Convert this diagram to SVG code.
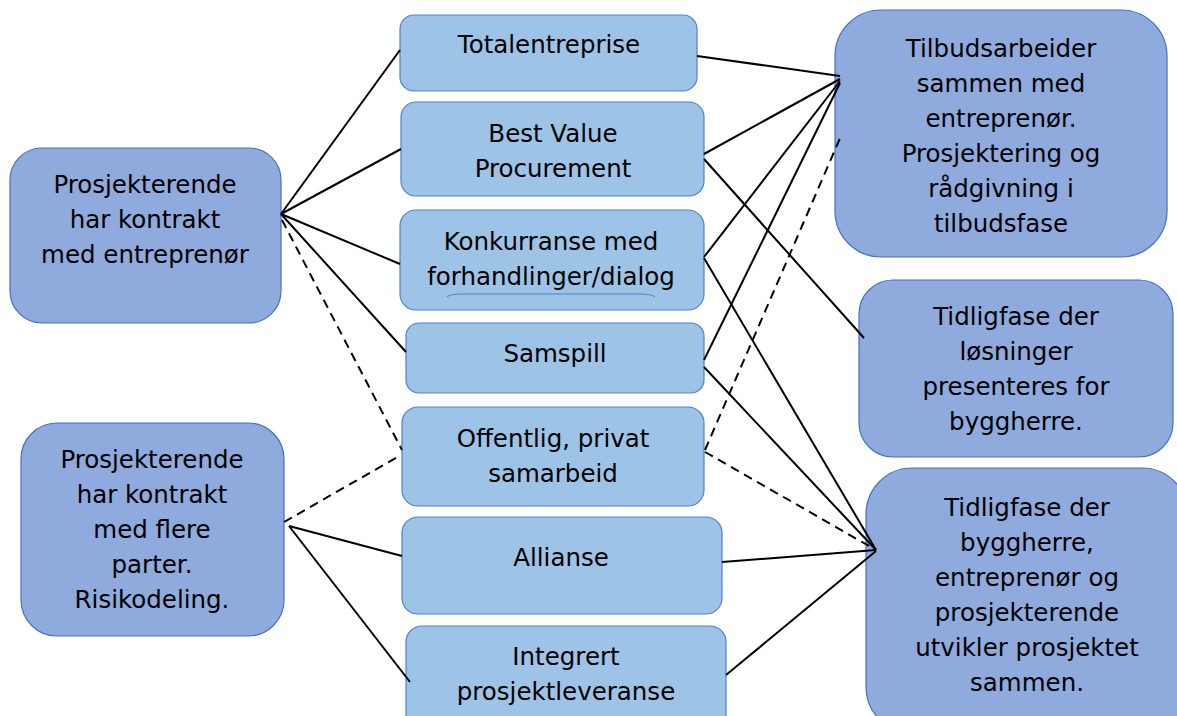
<svg xmlns="http://www.w3.org/2000/svg" width="1177" height="716" viewBox="0 0 1177 716">
  <style>
    .side { fill: #8FAADC; stroke: #4472C4; stroke-width: 1.2; }
    .mid { fill: #9DC3E6; stroke: #4F81D0; stroke-width: 1.2; }
    text { font-family: "DejaVu Sans", Verdana, sans-serif; font-size: 24.5px; fill: #000; text-anchor: middle; }
    .conn { stroke: #000; stroke-width: 2; fill: none; }
    .dash { stroke-dasharray: 9 6; }
  </style>
  <rect width="1177" height="716" fill="#fff"/>

  <!-- left column -->
  <g id="node-entreprenor">
    <rect class="side" x="10" y="148" width="271" height="175" rx="32"/>
    <text x="145" y="193">Prosjekterende</text>
    <text x="145" y="228">har kontrakt</text>
    <text x="145" y="263">med entreprenør</text>
  </g>
  <g id="node-flere-parter">
    <rect class="side" x="21" y="423" width="263" height="213" rx="36"/>
    <text x="152" y="468">Prosjekterende</text>
    <text x="152" y="503">har kontrakt</text>
    <text x="152" y="538">med flere</text>
    <text x="152" y="573">parter.</text>
    <text x="152" y="608">Risikodeling.</text>
  </g>

  <!-- middle column -->
  <g id="node-totalentreprise">
    <rect class="mid" x="400" y="15" width="297" height="76" rx="14"/>
    <text x="549" y="53">Totalentreprise</text>
  </g>
  <g id="node-best-value">
    <rect class="mid" x="401" y="102" width="303" height="94" rx="15"/>
    <text x="553" y="142">Best Value</text>
    <text x="553" y="177">Procurement</text>
  </g>
  <g id="node-konkurranse">
    <rect class="mid" x="400" y="210" width="304" height="100" rx="16"/>
    <text x="551" y="250">Konkurranse med</text>
    <text x="551" y="285">forhandlinger/dialog</text>
    <path d="M447,297 Q450,294 462,294 L640,294 Q652,294 655,297" fill="none" stroke="#4F81D0" stroke-width="1"/>
  </g>
  <g id="node-samspill">
    <rect class="mid" x="406" y="323" width="298" height="70" rx="13"/>
    <text x="555" y="362">Samspill</text>
  </g>
  <g id="node-offentlig-privat">
    <rect class="mid" x="402" y="407" width="302" height="99" rx="16"/>
    <text x="553" y="447">Offentlig, privat</text>
    <text x="553" y="482">samarbeid</text>
  </g>
  <g id="node-allianse">
    <rect class="mid" x="402" y="517" width="320" height="97" rx="16"/>
    <text x="561" y="566">Allianse</text>
  </g>
  <g id="node-integrert">
    <rect class="mid" x="406" y="626" width="320" height="110" rx="16"/>
    <text x="566" y="665">Integrert</text>
    <text x="566" y="700">prosjektleveranse</text>
  </g>

  <!-- right column -->
  <g id="node-tilbudsarbeid">
    <rect class="side" x="835" y="10" width="332" height="247" rx="46"/>
    <text x="1001" y="57">Tilbudsarbeider</text>
    <text x="1001" y="92">sammen med</text>
    <text x="1001" y="127">entreprenør.</text>
    <text x="1001" y="162">Prosjektering og</text>
    <text x="1001" y="197">rådgivning i</text>
    <text x="1001" y="232">tilbudsfase</text>
  </g>
  <g id="node-tidligfase-losninger">
    <rect class="side" x="859" y="280" width="314" height="177" rx="34"/>
    <text x="1016" y="325">Tidligfase der</text>
    <text x="1016" y="360">løsninger</text>
    <text x="1016" y="395">presenteres for</text>
    <text x="1016" y="430">byggherre.</text>
  </g>
  <g id="node-tidligfase-sammen">
    <rect class="side" x="866" y="468" width="322" height="265" rx="46"/>
    <text x="1027" y="516">Tidligfase der</text>
    <text x="1027" y="551">byggherre,</text>
    <text x="1027" y="586">entreprenør og</text>
    <text x="1027" y="621">prosjekterende</text>
    <text x="1027" y="656">utvikler prosjektet</text>
    <text x="1027" y="691">sammen.</text>
  </g>

  <!-- connectors, drawn over the node edges -->
  <g id="connectors">
    <!-- from "har kontrakt med entreprenør" -->
    <line class="conn" x1="281" y1="214" x2="400" y2="50"/>
    <line class="conn" x1="281" y1="214" x2="401" y2="149"/>
    <line class="conn" x1="281" y1="214" x2="400" y2="264"/>
    <line class="conn" x1="281" y1="214" x2="406" y2="352"/>
    <line class="conn dash" x1="282" y1="220" x2="402" y2="450"/>
    <!-- from "har kontrakt med flere parter" -->
    <line class="conn dash" x1="284" y1="522" x2="401" y2="455"/>
    <line class="conn" x1="289" y1="526" x2="402" y2="556"/>
    <line class="conn" x1="289" y1="526" x2="410" y2="682"/>
    <!-- to "Tilbudsarbeider" -->
    <line class="conn" x1="697" y1="56" x2="840" y2="76"/>
    <line class="conn" x1="704" y1="154" x2="840" y2="79"/>
    <line class="conn" x1="704" y1="257" x2="840" y2="81"/>
    <line class="conn" x1="704" y1="360" x2="840" y2="83"/>
    <line class="conn dash" x1="705" y1="450" x2="841" y2="136"/>
    <!-- to "Tidligfase der løsninger" -->
    <line class="conn" x1="704" y1="159" x2="864" y2="338"/>
    <!-- to "Tidligfase der byggherre" -->
    <line class="conn" x1="704" y1="258" x2="876" y2="550"/>
    <line class="conn" x1="704" y1="367" x2="876" y2="550"/>
    <line class="conn dash" x1="705" y1="452" x2="876" y2="550"/>
    <line class="conn" x1="722" y1="562" x2="876" y2="550"/>
    <line class="conn" x1="726" y1="675" x2="876" y2="551"/>
  </g>
</svg>
